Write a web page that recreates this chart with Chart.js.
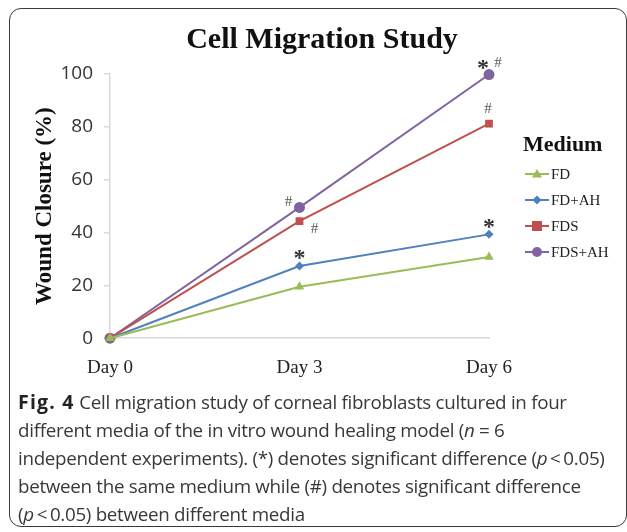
<!DOCTYPE html>
<html>
<head>
<meta charset="utf-8">
<title>Cell Migration Study</title>
<script src="https://cdn.jsdelivr.net/npm/chart.js@4.4.1/dist/chart.umd.min.js"></script>
<style>
  html, body { margin: 0; padding: 0; background: #fff; }
  body { width: 627px; height: 532px; position: relative; overflow: hidden; }
  .frame {
    position: absolute; left: 9px; top: 8px; width: 618px; height: 519px;
    border: 1.5px solid #3a3a3a; border-radius: 12px; box-sizing: border-box;
  }
  .chart-wrap { position: absolute; left: 0; top: 0; width: 627px; height: 395px; }
  .caption {
    position: absolute; left: 18px; top: 388px; width: 605px;
    font-family: 'Open Sans', sans-serif; font-size: 18.8px; line-height: 28px;
    color: #383838; letter-spacing: -0.3px; white-space: nowrap;
  }
  .caption b { color: #222; font-size: 19.5px; letter-spacing: 1.2px; }
</style>
</head>
<body>
<div class="frame"></div>
<div class="chart-wrap"><canvas id="migrationChart"></canvas></div>
<div class="caption">
  <b>Fig. 4</b> Cell migration study of corneal fibroblasts cultured in four<br>
  different media of the in vitro wound healing model (<i>n</i> = 6<br>
  independent experiments). (*) denotes significant difference (<i>p</i>&thinsp;&lt;&thinsp;0.05)<br>
  between the same medium while (#) denotes significant difference<br>
  (<i>p</i>&thinsp;&lt;&thinsp;0.05) between different media
</div>

<script>
// ===== 数据 =====
const days = ['Day 0', 'Day 3', 'Day 6'];
const fd = [0, 19.5, 30.7];
const fdAh = [0, 27.3, 39.3];
const fds = [0, 44.3, 81.2];
const fdsAh = [0, 49.5, 99.8];

// significance marks for each point
const fdMarks = ['', '', ''];
const fdAhMarks = ['', '*', '*'];
const fdsMarks = ['', '#', '#'];
const fdsAhMarks = ['', '#', '*#'];

// where each mark sits relative to its point
const fdPlace = ['', '', ''];
const fdAhPlace = ['', 'above', 'above'];
const fdsPlace = ['', 'belowRight', 'above'];
const fdsAhPlace = ['', 'left', 'above'];

const legendTitle = 'Medium';
const yMin = 0, yMax = 100, yStep = 20;

const COLORS = {
  fd: '#9bbb59',
  fdAh: '#4f81bd',
  fds: '#c0504d',
  fdsAh: '#8064a2'
};

function series(label, data, color, shape, radius, marks, place) {
  return {
    label: label,
    data: data,
    borderColor: color,
    backgroundColor: color,
    borderWidth: 2,
    pointStyle: shape,
    pointRadius: radius,
    pointHoverRadius: radius,
    pointBorderWidth: 0,
    tension: 0,
    clip: false,
    marks: marks,
    place: place
  };
}

// ===== 图例标记 =====
function drawMarker(ctx, shape, x, y) {
  ctx.beginPath();
  if (shape === 'triangle') {
    ctx.moveTo(x, y - 5); ctx.lineTo(x + 5, y + 3.5); ctx.lineTo(x - 5, y + 3.5);
  } else if (shape === 'rectRot') {
    ctx.moveTo(x, y - 4.5); ctx.lineTo(x + 4.5, y); ctx.lineTo(x, y + 4.5); ctx.lineTo(x - 4.5, y);
  } else if (shape === 'rect') {
    ctx.rect(x - 5, y - 5, 10, 10);
  } else {
    ctx.arc(x, y, 5, 0, Math.PI * 2);
  }
  ctx.closePath();
  ctx.fill();
}

// ===== 图例插件 =====
const legendPlugin = {
  id: 'mediumLegend',
  afterDraw(chart) {
    const { ctx, chartArea } = chart;
    const left = chartArea.right;
    ctx.save();
    ctx.textBaseline = 'middle';
    ctx.textAlign = 'left';
    ctx.font = 'bold 22px "Liberation Serif"';
    ctx.fillStyle = '#111';
    ctx.fillText(legendTitle, left + 34, chartArea.top + 71);

    chart.data.datasets.forEach((ds, i) => {
      const y = chartArea.top + 100 + i * 26;
      const lx = left + 36;
      ctx.strokeStyle = ds.borderColor;
      ctx.fillStyle = ds.borderColor;
      ctx.lineWidth = 2;
      ctx.beginPath();
      ctx.moveTo(lx, y);
      ctx.lineTo(lx + 24, y);
      ctx.stroke();
      drawMarker(ctx, ds.pointStyle, lx + 12, y);

      ctx.font = '15px "Liberation Serif"';
      ctx.fillStyle = '#222';
      ctx.fillText(ds.label, lx + 26, y + 1);
    });
    ctx.restore();
  }
};

// ===== 显著性标记插件 =====
function drawStar(ctx, x, y) {
  ctx.font = 'bold 24px "Liberation Serif"';
  ctx.fillStyle = '#333';
  ctx.fillText('*', x, y);
}

function drawHash(ctx, x, y) {
  ctx.font = '15px "Liberation Serif"';
  ctx.fillStyle = '#555';
  ctx.fillText('#', x, y);
}

const marksPlugin = {
  id: 'sigMarks',
  afterDatasetsDraw(chart) {
    const ctx = chart.ctx;
    ctx.save();
    ctx.textAlign = 'center';
    ctx.textBaseline = 'middle';
    chart.data.datasets.forEach((ds, i) => {
      const meta = chart.getDatasetMeta(i);
      (ds.marks || []).forEach((m, j) => {
        if (!m) return;
        const pt = meta.data[j];
        const place = ds.place[j];
        const x = pt.x, y = pt.y;
        if (m === '*#') {
          drawStar(ctx, x - 6, y - 6);
          drawHash(ctx, x + 9, y - 11);
        } else if (m === '*') {
          drawStar(ctx, x, y - 7);
        } else if (place === 'left') {
          drawHash(ctx, x - 11, y - 5);
        } else if (place === 'belowRight') {
          drawHash(ctx, x + 15, y + 8);
        } else {
          drawHash(ctx, x - 1, y - 15);
        }
      });
    });
    ctx.restore();
  }
};

// ===== 图表 =====
const ctx = document.getElementById('migrationChart').getContext('2d');
new Chart(ctx, {
  type: 'line',
  data: {
    labels: days,
    datasets: [
      series('FD', fd, COLORS.fd, 'triangle', 5.5, fdMarks, fdPlace),
      series('FD+AH', fdAh, COLORS.fdAh, 'rectRot', 4.5, fdAhMarks, fdAhPlace),
      series('FDS', fds, COLORS.fds, 'rect', 5.5, fdsMarks, fdsPlace),
      series('FDS+AH', fdsAh, COLORS.fdsAh, 'circle', 5.5, fdsAhMarks, fdsAhPlace)
    ]
  },
  options: {
    responsive: true,
    maintainAspectRatio: false,
    animation: false,
    layout: { padding: { left: 31, right: 14, top: 4, bottom: 6 } },
    plugins: {
      title: {
        display: true,
        text: 'Cell Migration Study',
        color: '#111',
        font: { family: 'Liberation Serif', size: 30, weight: 'bold' },
        padding: { top: 18, bottom: 16 }
      },
      legend: { display: false },
      tooltip: { enabled: false }
    },
    scales: {
      x: {
        offset: false,
        grid: { display: false },
        border: { display: true, color: '#d9d9d9', width: 1.5 },
        ticks: {
          color: '#222',
          padding: 10,
          font: { family: 'Liberation Serif', size: 19 },
          maxRotation: 0
        }
      },
      y: {
        min: yMin,
        max: yMax,
        afterFit(scale) { scale.width = 79; },
        grid: { drawOnChartArea: false, drawTicks: true, tickLength: 6, color: '#d9d9d9', lineWidth: 1.5 },
        border: { display: true, color: '#d9d9d9', width: 1.5 },
        title: {
          display: true,
          text: 'Wound Closure (%)',
          color: '#111',
          font: { family: 'Liberation Serif', size: 23, weight: 'bold' },
          padding: { top: 0, bottom: 0 }
        },
        ticks: {
          stepSize: yStep,
          color: '#333',
          padding: 11,
          font: { family: 'Open Sans', size: 19 }
        }
      },
      legendSpace: {
        type: 'linear',
        position: 'right',
        display: true,
        afterFit(scale) { scale.width = 124; },
        grid: { display: false },
        border: { display: false },
        ticks: { display: false }
      }
    }
  },
  plugins: [marksPlugin, legendPlugin]
});
</script>
</body>
</html>
